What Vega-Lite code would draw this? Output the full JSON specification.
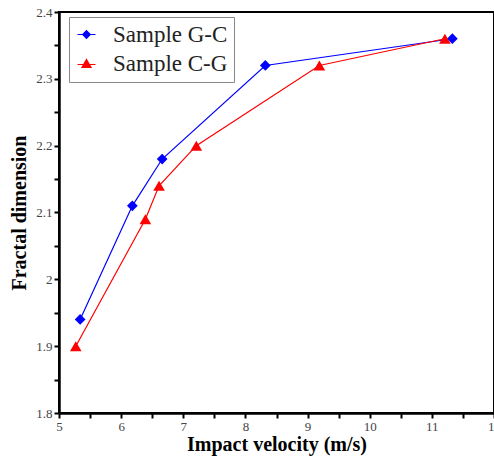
{
  "$schema": "https://vega.github.io/schema/vega-lite/v6.json",
  "width": 435,
  "height": 401,
  "autosize": {"type": "none"},
  "padding": {"left": 59, "top": 12, "right": 0, "bottom": 44},
  "background": "white",
  "config": {
    "view": {"stroke": "black", "strokeWidth": 2},
    "font": "Liberation Serif",
    "axis": {
      "grid": false,
      "domainColor": "black",
      "domainWidth": 2.5,
      "tickColor": "black",
      "tickWidth": 2,
      "tickSize": 5,
      "labelFont": "Liberation Serif",
      "labelFontSize": 13,
      "labelColor": "#444",
      "titleFont": "Liberation Serif",
      "titleFontSize": 20,
      "titleFontWeight": "bold",
      "titleColor": "black"
    }
  },
  "data": {
    "values": [
      {"series": "Sample G-C", "v": 5.34, "d": 1.94},
      {"series": "Sample G-C", "v": 6.18, "d": 2.11},
      {"series": "Sample G-C", "v": 6.66, "d": 2.18},
      {"series": "Sample G-C", "v": 8.32, "d": 2.32},
      {"series": "Sample G-C", "v": 11.33, "d": 2.36},
      {"series": "Sample C-G", "v": 5.27, "d": 1.90},
      {"series": "Sample C-G", "v": 6.39, "d": 2.09},
      {"series": "Sample C-G", "v": 6.61, "d": 2.14},
      {"series": "Sample C-G", "v": 7.21, "d": 2.20},
      {"series": "Sample C-G", "v": 9.19, "d": 2.32},
      {"series": "Sample C-G", "v": 11.21, "d": 2.36}
    ]
  },
  "encoding": {
    "x": {
      "field": "v", "type": "quantitative",
      "scale": {"domain": [5, 12], "nice": false, "zero": false},
      "axis": {
        "title": "Impact velocity (m/s)",
        "values": [5, 5.5, 6, 6.5, 7, 7.5, 8, 8.5, 9, 9.5, 10, 10.5, 11, 11.5, 12],
        "labelExpr": "datum.value % 1 == 0 ? format(datum.value, '~g') : ''",
        "labelPadding": 2,
        "labelOverlap": false,
        "labelFlush": false,
        "titlePadding": 1
      }
    },
    "y": {
      "field": "d", "type": "quantitative",
      "scale": {"domain": [1.8, 2.4], "nice": false, "zero": false},
      "axis": {
        "title": "Fractal dimension",
        "values": [1.8, 1.85, 1.9, 1.95, 2.0, 2.05, 2.1, 2.15, 2.2, 2.25, 2.3, 2.35, 2.4],
        "labelExpr": "abs(round(datum.value * 10) - datum.value * 10) < 0.001 ? format(datum.value, '~g') : ''",
        "labelPadding": 2,
        "labelOverlap": false,
        "labelFlush": false,
        "titlePadding": 6
      }
    },
    "color": {
      "field": "series", "type": "nominal",
      "scale": {"domain": ["Sample G-C", "Sample C-G"], "range": ["#0000ff", "#ff0000"]},
      "legend": {
        "title": null,
        "orient": "none",
        "legendX": 10,
        "legendY": 5,
        "direction": "vertical",
        "strokeColor": "#888",
        "fillColor": "white",
        "padding": 6,
        "symbolSize": 400,
        "symbolStrokeWidth": 1.2,
        "labelFont": "Liberation Serif",
        "labelFontSize": 23,
        "labelColor": "#222",
        "labelOffset": 15,
        "rowPadding": 5,
        "encoding": {
          "symbols": {
            "shape": {
              "condition": {"test": "datum.value == 'Sample G-C'", "value": "M-0.9,0H0.9M0,-0.38L0.38,0L0,0.38L-0.38,0Z"},
              "value": "M-0.9,0.1H0.9M0,-0.4L0.45,0.38L-0.45,0.38Z"
            },
            "stroke": {
              "condition": {"test": "datum.value == 'Sample G-C'", "value": "#0000ff"},
              "value": "#ff0000"
            },
            "fill": {
              "condition": {"test": "datum.value == 'Sample G-C'", "value": "#0000ff"},
              "value": "#ff0000"
            },
            "strokeWidth": {"value": 1.2},
            "size": {"value": 400},
            "opacity": {"value": 1}
          }
        }
      }
    }
  },
  "layer": [
    {
      "mark": {"type": "line", "strokeWidth": 1.2}
    },
    {
      "transform": [{"filter": "datum.series == 'Sample G-C'"}],
      "mark": {"type": "point", "filled": true, "opacity": 1, "shape": "diamond", "size": 115}
    },
    {
      "transform": [{"filter": "datum.series == 'Sample C-G'"}],
      "mark": {"type": "point", "filled": true, "opacity": 1, "shape": "triangle-up", "size": 135}
    }
  ]
}
